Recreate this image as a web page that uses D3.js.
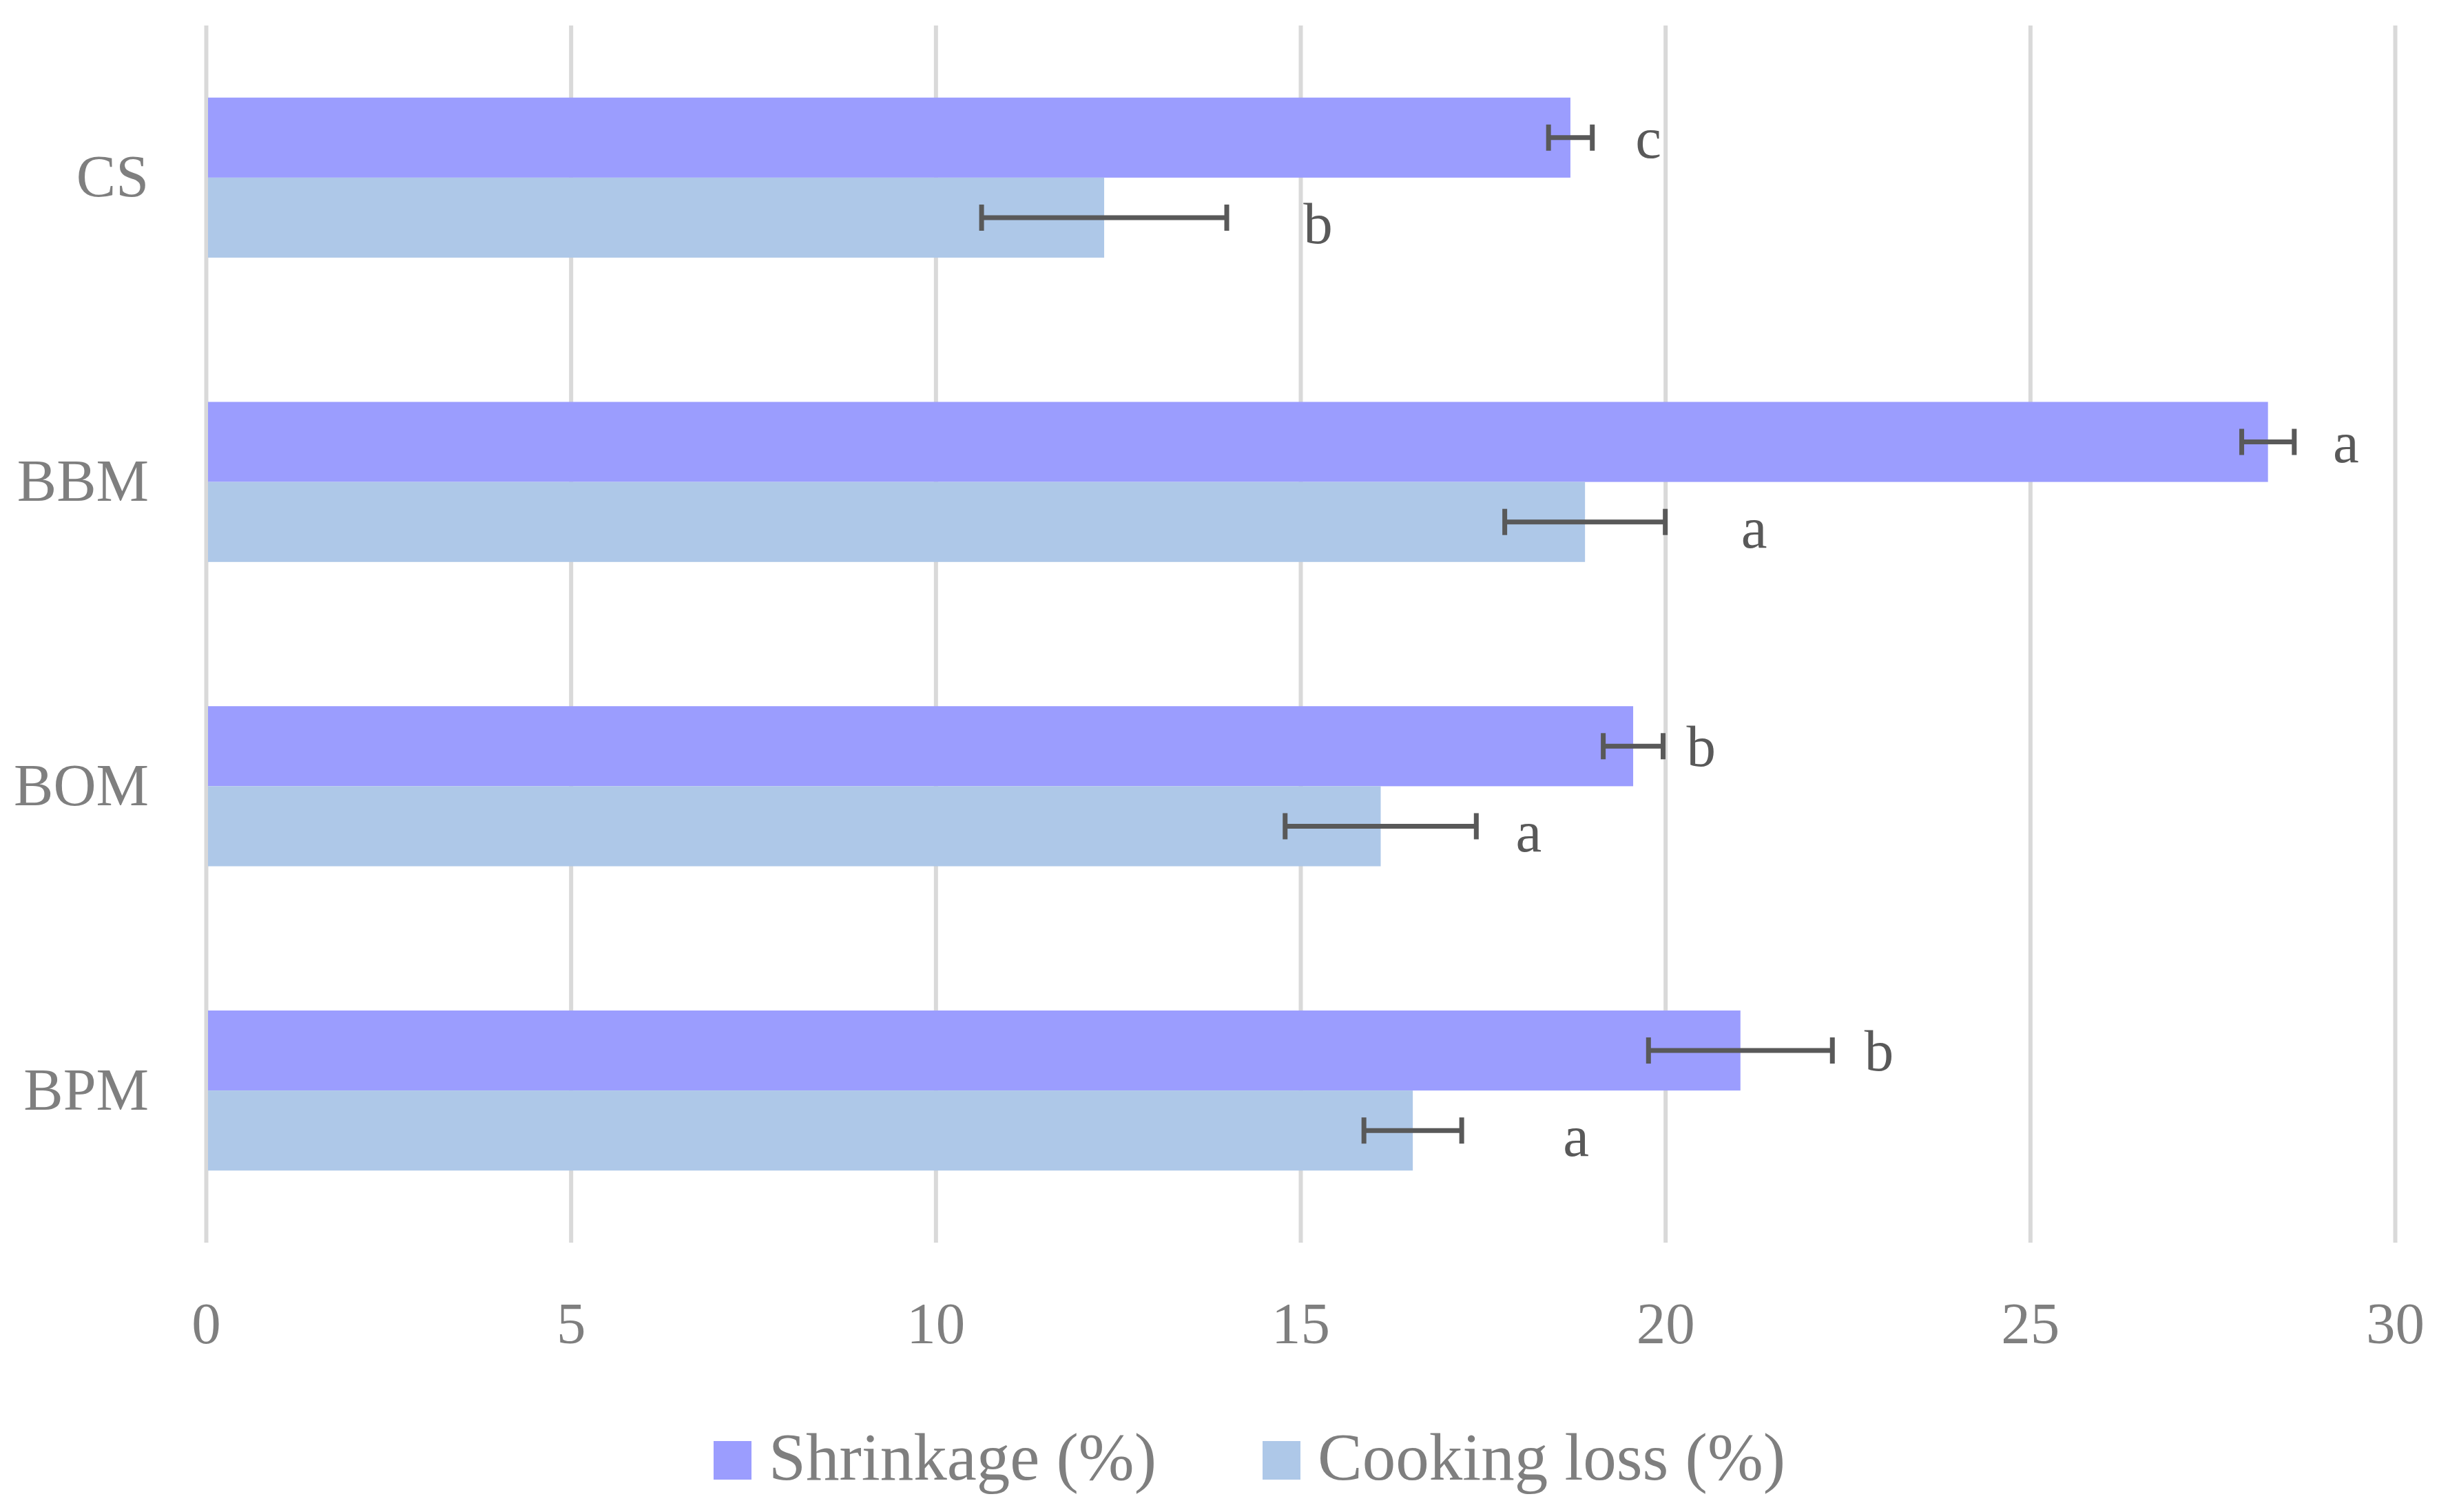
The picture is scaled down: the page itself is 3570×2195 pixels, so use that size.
<!DOCTYPE html>
<html>
<head>
<meta charset="utf-8">
<script src="https://cdn.jsdelivr.net/npm/d3@7"></script>
<style>
  body { margin: 0; background: #fff; }
  text { font-family: "Liberation Serif", "DejaVu Serif", serif; }
</style>
</head>
<body>
<svg id="chart" width="3570" height="2195"></svg>
<script>
// data
const categories = ["CS", "BBM", "BOM", "BPM"];
const series = ["Shrinkage (%)", "Cooking loss (%)"];
const shrinkage = [18.7, 28.26, 19.56, 21.03];
const shrinkageErr = [0.3, 0.36, 0.41, 1.26];
const cookingLoss = [12.31, 18.9, 16.1, 16.54];
const cookingErr = [1.68, 1.1, 1.31, 0.67];
const shrinkageLetters = ["c", "a", "b", "b"];
const cookingLetters = ["b", "a", "a", "a"];
// where the letters sit, in axis units
const shrinkageLetterAt = [19.59, 29.15, 20.29, 22.73];
const cookingLetterAt = [15.04, 21.04, 17.95, 18.6];
const xTicks = [0, 5, 10, 15, 20, 25, 30];

const colors = ["#9b9dfe", "#aec8e8"];
const letterShift = [29, 37];

const rows = categories.map((c, i) => ({
    cat: c,
    bars: [
        { s: series[0], k: 0, v: shrinkage[i], e: shrinkageErr[i], l: shrinkageLetters[i], at: shrinkageLetterAt[i] },
        { s: series[1], k: 1, v: cookingLoss[i], e: cookingErr[i], l: cookingLetters[i], at: cookingLetterAt[i] }
    ]
}));

const svg = d3.select("#chart");
const plotTop = 37, plotBottom = 1804;

const x = d3.scaleLinear().domain([0, 30]).range([299, 3477]);

const y = d3.scaleBand()
    .domain(categories)
    .range([plotTop, plotBottom])
    .paddingInner(0.474)
    .paddingOuter(0.237);

const ySub = d3.scaleBand()
    .domain(series)
    .range([0, y.bandwidth()]);

const color = d3.scaleOrdinal().domain(series).range(colors);

// gridlines
const grid = svg.append("g")
    .attr("transform", `translate(0, ${plotBottom})`)
    .call(d3.axisBottom(x).tickValues(xTicks).tickSize(-(plotBottom - plotTop)).tickFormat(""));
grid.select(".domain").remove();
grid.selectAll("line").attr("stroke", "#d9d9d9").attr("stroke-width", 6);

// bars
const groups = svg.selectAll("g.cat")
    .data(rows)
    .enter()
    .append("g")
    .attr("class", "cat")
    .attr("transform", d => `translate(0, ${y(d.cat)})`);

groups.selectAll("rect")
    .data(d => d.bars)
    .enter()
    .append("rect")
    .attr("x", x(0) + 3)
    .attr("y", d => ySub(d.s))
    .attr("width", d => x(d.v) - x(0) - 3)
    .attr("height", ySub.bandwidth())
    .attr("fill", d => color(d.s));

// error bars
const capH = 38;
const err = groups.selectAll("g.err")
    .data(d => d.bars)
    .enter()
    .append("g")
    .attr("class", "err")
    .attr("stroke", "#595959")
    .attr("stroke-width", 7);

err.append("line")
    .attr("x1", d => x(d.v - d.e))
    .attr("x2", d => x(d.v + d.e))
    .attr("y1", d => ySub(d.s) + ySub.bandwidth() / 2)
    .attr("y2", d => ySub(d.s) + ySub.bandwidth() / 2);

err.selectAll("line.cap")
    .data(d => [{ s: d.s, xv: d.v - d.e }, { s: d.s, xv: d.v + d.e }])
    .enter()
    .append("line")
    .attr("class", "cap")
    .attr("x1", d => x(d.xv))
    .attr("x2", d => x(d.xv))
    .attr("y1", d => ySub(d.s) + ySub.bandwidth() / 2 - capH / 2)
    .attr("y2", d => ySub(d.s) + ySub.bandwidth() / 2 + capH / 2);

// significance letters
groups.selectAll("text.letter")
    .data(d => d.bars)
    .enter()
    .append("text")
    .attr("class", "letter")
    .attr("x", d => x(d.at))
    .attr("y", d => ySub(d.s) + ySub.bandwidth() / 2 + letterShift[d.k])
    .attr("fill", "#595959")
    .style("font-size", "85px")
    .text(d => d.l);

// x axis labels
const xAxis = svg.append("g")
    .attr("transform", `translate(0, ${plotBottom})`)
    .call(d3.axisBottom(x).tickValues(xTicks).tickSize(0).tickPadding(86));
xAxis.select(".domain").remove();
xAxis.selectAll("text")
    .attr("fill", "#7f7f7f")
    .style("font-size", "85px")
    .style("font-family", "'Liberation Serif', serif");

// y axis labels
const yAxis = svg.append("g")
    .attr("transform", `translate(${x(0)}, 0)`)
    .call(d3.axisLeft(y).tickSize(0).tickPadding(83));
yAxis.select(".domain").remove();
yAxis.selectAll("text")
    .attr("fill", "#7f7f7f")
    .style("font-size", "86px")
    .style("font-family", "'Liberation Serif', serif");

// legend
const legendX = [1036, 1833];
const legend = svg.selectAll("g.legend")
    .data(series)
    .enter()
    .append("g")
    .attr("class", "legend")
    .attr("transform", (d, i) => `translate(${legendX[i]}, 2092)`);

legend.append("rect")
    .attr("width", 55)
    .attr("height", 56)
    .attr("fill", d => color(d));

legend.append("text")
    .attr("x", 80)
    .attr("y", 56)
    .attr("fill", "#7f7f7f")
    .style("font-size", "97px")
    .text(d => d);
</script>
</body>
</html>
